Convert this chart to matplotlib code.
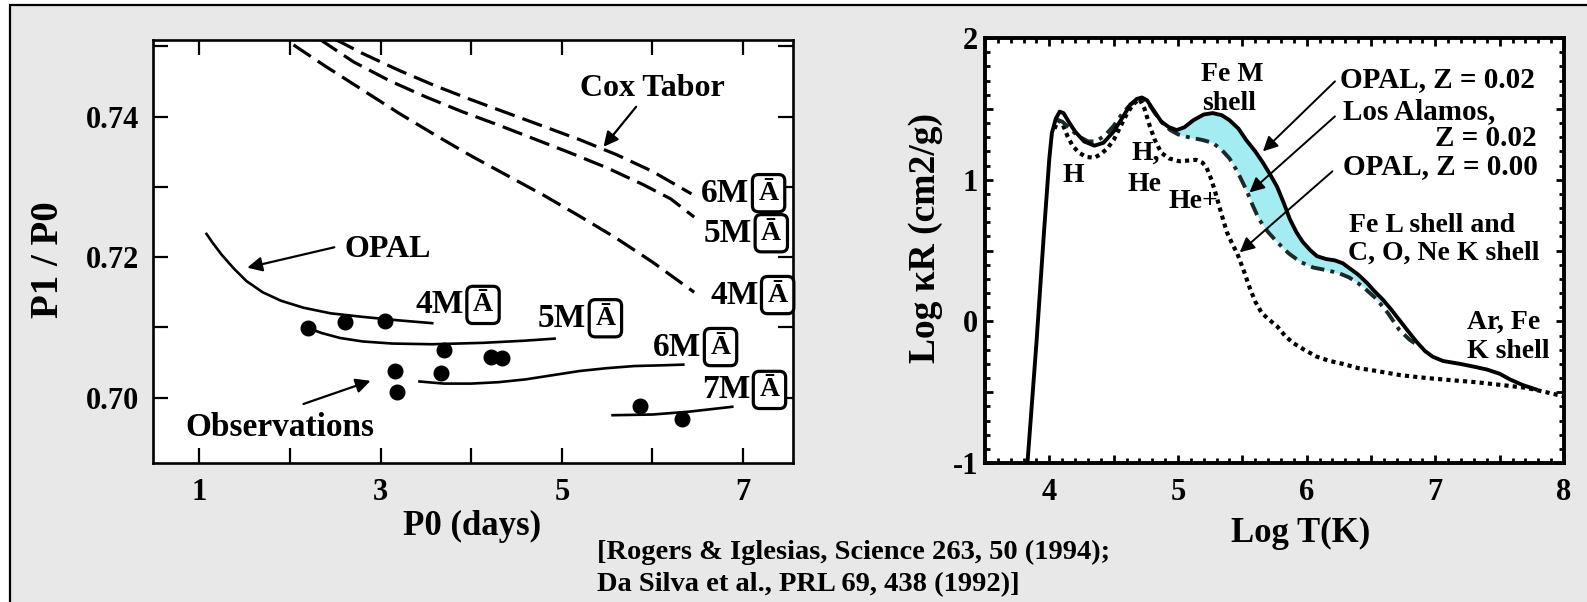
import numpy as np
import matplotlib
matplotlib.use("Agg")
import matplotlib.pyplot as plt
from matplotlib.patches import Rectangle
from matplotlib.ticker import MultipleLocator, FuncFormatter

plt.rcParams['font.family'] = ['Liberation Serif', 'DejaVu Serif']
plt.rcParams['font.weight'] = 'bold'
plt.rcParams['axes.unicode_minus'] = False

# ---- left panel: period ratio vs fundamental period ----
cox6_p0 = [2.50, 2.80, 3.20, 3.60, 4.00, 4.40, 4.80, 5.20, 5.60, 6.00, 6.43]
cox6_r = [0.7510, 0.7490, 0.7466, 0.7444, 0.7424, 0.7405, 0.7386, 0.7367, 0.7346, 0.7322, 0.7290]
cox5_p0 = [2.33, 2.70, 3.10, 3.50, 3.90, 4.30, 4.70, 5.10, 5.50, 5.90, 6.20, 6.46]
cox5_r = [0.7510, 0.7478, 0.7451, 0.7428, 0.7407, 0.7388, 0.7368, 0.7348, 0.7327, 0.7303, 0.7283, 0.7257]
cox4_p0 = [2.04, 2.40, 2.80, 3.20, 3.60, 4.00, 4.40, 4.80, 5.20, 5.60, 6.00, 6.46]
cox4_r = [0.7502, 0.7471, 0.7438, 0.7405, 0.7374, 0.7344, 0.7316, 0.7288, 0.7258, 0.7227, 0.7193, 0.7150]

opal4_p0 = [1.08, 1.15, 1.25, 1.38, 1.52, 1.70, 1.90, 2.15, 2.45, 2.80, 3.20, 3.57]
opal4_r = [0.7233, 0.7220, 0.7203, 0.7184, 0.7166, 0.7150, 0.7138, 0.7128, 0.7120, 0.7115, 0.7110, 0.7106]
opal5_p0 = [2.18, 2.35, 2.55, 2.80, 3.13, 3.57, 4.13, 4.58, 4.92]
opal5_r = [0.7100, 0.7092, 0.7085, 0.7080, 0.7077, 0.7076, 0.7078, 0.7081, 0.7084]
opal6_p0 = [3.43, 3.70, 4.00, 4.30, 4.60, 4.90, 5.20, 5.50, 5.80, 6.10, 6.34]
opal6_r = [0.7023, 0.7020, 0.7020, 0.7022, 0.7026, 0.7032, 0.7038, 0.7042, 0.7045, 0.7046, 0.7047]
opal7_p0 = [5.56, 6.00, 6.40, 6.88]
opal7_r = [0.6975, 0.6976, 0.6980, 0.6987]

obs_p0 = [2.20, 2.61, 3.05, 3.16, 3.18, 3.70, 3.67, 4.22, 4.34, 5.86, 6.33]
obs_r = [0.7099, 0.7107, 0.7109, 0.7038, 0.7008, 0.7068, 0.7035, 0.7058, 0.7056, 0.6988, 0.6970]

# mass labels: (text, x, y) where x is the join between "nM" and the boxed sign
mass_labels = [("6M", 7.07, 0.7291), ("5M", 7.10, 0.7234), ("4M", 7.17, 0.7146),
               ("4M", 3.92, 0.7132), ("5M", 5.27, 0.7113), ("6M", 6.54, 0.7072),
               ("7M", 7.08, 0.7011)]

# ---- right panel: Rosseland mean opacity vs temperature ----
opal02_T = [3.83, 3.90, 3.96, 4.00, 4.02, 4.05, 4.08, 4.11, 4.15, 4.20, 4.27, 4.35,
            4.42, 4.50, 4.57, 4.63, 4.68, 4.72, 4.76, 4.81, 4.87, 4.93, 4.99, 5.05,
            5.12, 5.20, 5.27, 5.34, 5.40, 5.47, 5.53, 5.60, 5.66, 5.72, 5.77, 5.82,
            5.87, 5.92, 5.97, 6.03, 6.08, 6.15, 6.22, 6.28, 6.34, 6.40, 6.47, 6.53,
            6.59, 6.66, 6.72, 6.78, 6.85, 6.92, 6.98, 7.06, 7.19, 7.30, 7.40, 7.50,
            7.58, 7.68, 7.78]
opal02_k = [-1.0, -0.15, 0.65, 1.15, 1.33, 1.43, 1.48, 1.47, 1.41, 1.34, 1.27, 1.24,
            1.26, 1.34, 1.44, 1.53, 1.57, 1.58, 1.56, 1.49, 1.41, 1.37, 1.35, 1.37,
            1.42, 1.46, 1.47, 1.455, 1.42, 1.36, 1.28, 1.20, 1.12, 1.03, 0.95, 0.84,
            0.72, 0.63, 0.56, 0.50, 0.46, 0.44, 0.43, 0.41, 0.37, 0.33, 0.27, 0.21,
            0.155, 0.08, 0.01, -0.06, -0.14, -0.21, -0.25, -0.28, -0.30, -0.32, -0.34, -0.37,
            -0.41, -0.45, -0.48]
la_T = [4.06, 4.10, 4.15, 4.22, 4.30, 4.36, 4.43, 4.50, 4.57, 4.63, 4.68, 4.72,
        4.77, 4.82, 4.88, 4.94, 5.00, 5.08, 5.19, 5.27, 5.34, 5.40, 5.46, 5.53,
        5.58, 5.63, 5.70, 5.77, 5.86, 5.95, 6.05, 6.16, 6.25, 6.33, 6.43, 6.54,
        6.63, 6.72, 6.80, 6.88]
la_k = [1.42, 1.41, 1.37, 1.31, 1.27, 1.27, 1.31, 1.38, 1.47, 1.53, 1.56, 1.57,
        1.54, 1.47, 1.40, 1.35, 1.32, 1.30, 1.28, 1.26, 1.21, 1.15, 1.06, 0.93,
        0.82, 0.72, 0.63, 0.56, 0.48, 0.42, 0.38, 0.36, 0.34, 0.31, 0.25, 0.16,
        0.06, -0.06, -0.13, -0.18]
opal00_T = [4.04, 4.07, 4.10, 4.14, 4.18, 4.23, 4.29, 4.35, 4.40, 4.45, 4.50, 4.55,
            4.60, 4.65, 4.70, 4.74, 4.78, 4.82, 4.87, 4.93, 5.01, 5.08, 5.14, 5.19,
            5.22, 5.26, 5.30, 5.34, 5.38, 5.42, 5.46, 5.51, 5.56, 5.60, 5.65, 5.71,
            5.77, 5.83, 5.89, 5.98, 6.08, 6.18, 6.28, 6.40, 6.54, 6.73, 6.93, 7.12,
            7.32, 7.52, 7.71, 7.86, 8.00]
opal00_k = [1.36, 1.42, 1.40, 1.31, 1.24, 1.19, 1.16, 1.155, 1.18, 1.22, 1.28, 1.37,
            1.46, 1.53, 1.57, 1.50, 1.38, 1.28, 1.19, 1.15, 1.13, 1.135, 1.14, 1.12,
            1.09, 1.00, 0.88, 0.75, 0.63, 0.55, 0.48, 0.36, 0.23, 0.14, 0.06, 0.01,
            -0.035, -0.10, -0.15, -0.20, -0.25, -0.28, -0.30, -0.33, -0.35, -0.38, -0.40, -0.415,
            -0.43, -0.45, -0.47, -0.50, -0.53]
shade_T = (4.99, 6.59)

W, H = 1587, 602
fig = plt.figure(figsize=(W / 100, H / 100), dpi=100)
fig.patch.set_facecolor('white')
fig.add_artist(Rectangle((10 / W, -0.02), 1.05, 1 - 5 / H + 0.02, transform=fig.transFigure,
                         facecolor='#e8e8e8', edgecolor='black', lw=1.6, zorder=0))

# ================= left =================
ax1 = fig.add_axes([153 / W, 1 - 463 / H, 640 / W, 423 / H])
ax1.set_xlim(0.49, 7.55)
ax1.set_ylim(0.6907, 0.7509)

dash = dict(color='black', lw=2.3, dashes=(6.5, 2.6))
ax1.plot(cox6_p0, cox6_r, **dash)
ax1.plot(cox5_p0, cox5_r, **dash)
ax1.plot(cox4_p0, cox4_r, **dash)
for xs, ys in [(opal4_p0, opal4_r), (opal5_p0, opal5_r), (opal6_p0, opal6_r), (opal7_p0, opal7_r)]:
    ax1.plot(xs, ys, color='black', lw=1.9)
ax1.plot(obs_p0, obs_r, 'o', color='black', ms=10.5, zorder=4)

for lab, x, y in mass_labels:
    ax1.annotate(lab, (x, y), ha='right', va='center', fontsize=24, annotation_clip=False)
    ax1.annotate("Ā", (x, y), xytext=(6.5, 0), textcoords='offset points',
                 ha='left', va='center', fontsize=20, annotation_clip=False,
                 bbox=dict(boxstyle='round,pad=0.22', fc='white', ec='black', lw=2.3))

arrow = dict(arrowstyle='-|>', color='black', lw=1.6, mutation_scale=22, shrinkA=0, shrinkB=0)
ax1.text(6.00, 0.7440, "Cox Tabor", ha='center', va='center', fontsize=23)
ax1.annotate("", xy=(5.46, 0.7357), xytext=(5.82, 0.7414), arrowprops=arrow)
ax1.text(2.60, 0.7211, "OPAL", ha='left', va='center', fontsize=23)
ax1.annotate("", xy=(1.53, 0.7185), xytext=(2.49, 0.7214), arrowprops=arrow)
ax1.text(1.89, 0.6957, "Observations", ha='center', va='center', fontsize=24)
ax1.annotate("", xy=(2.89, 0.7024), xytext=(2.15, 0.6991), arrowprops=arrow)

ax1.xaxis.set_major_locator(MultipleLocator(1))
ax1.yaxis.set_major_locator(MultipleLocator(0.01))
ax1.xaxis.set_major_formatter(FuncFormatter(lambda v, _: f"{v:.0f}" if round(v) % 2 == 1 else ""))
ax1.yaxis.set_major_formatter(FuncFormatter(lambda v, _: f"{v:.2f}" if round(v * 100) % 2 == 0 else ""))
ax1.tick_params(direction='in', length=11, width=1.6, top=True, right=True, labelsize=22)
ax1.tick_params(axis='x', pad=11)
ax1.tick_params(axis='y', pad=10)
for s in ax1.spines.values():
    s.set_linewidth(1.9)
ax1.set_xlabel("P0 (days)", fontsize=25, fontweight='bold')
ax1.set_ylabel("P1 / P0", fontsize=28, fontweight='bold')
ax1.xaxis.set_label_coords(0.498, -0.151)
ax1.xaxis.label.set_va('center')
ax1.yaxis.set_label_coords(-0.164, 0.48)
ax1.yaxis.label.set_va('center')

# ================= right =================
ax2 = fig.add_axes([985 / W, 1 - 463 / H, 579 / W, 425 / H])
ax2.set_xlim(3.5, 8.0)
ax2.set_ylim(-1, 2)

grid = np.linspace(shade_T[0], shade_T[1], 200)
ax2.fill_between(grid, np.interp(grid, la_T, la_k), np.interp(grid, opal02_T, opal02_k),
                 color='#a2ecf2', lw=0, zorder=1)
ax2.plot(opal00_T, opal00_k, color='black', lw=3.0, linestyle=(0, (1.0, 1.0)), zorder=2)
ax2.plot(la_T, la_k, color='#1a2a2a', lw=2.8, linestyle=(0, (3.5, 1.6, 1.0, 1.6)), zorder=2)
ax2.plot(opal02_T, opal02_k, color='black', lw=2.8, zorder=3)

fs = 20
ax2.text(5.42, 1.743, "Fe M", ha='center', va='center', fontsize=fs)
ax2.text(5.40, 1.538, "shell", ha='center', va='center', fontsize=fs)
ax2.text(6.26, 1.708, "OPAL, Z = 0.02", ha='left', va='center', fontsize=21)
ax2.text(6.28, 1.482, "Los Alamos,", ha='left', va='center', fontsize=21)
ax2.text(7.79, 1.291, "Z = 0.02", ha='right', va='center', fontsize=21)
ax2.text(6.28, 1.094, "OPAL, Z = 0.00", ha='left', va='center', fontsize=21)
ax2.text(6.33, 0.677, "Fe L shell and", ha='left', va='center', fontsize=fs)
ax2.text(6.32, 0.480, "C, O, Ne K shell", ha='left', va='center', fontsize=fs)
ax2.text(7.245, -0.007, "Ar, Fe", ha='left', va='center', fontsize=fs)
ax2.text(7.245, -0.212, "K shell", ha='left', va='center', fontsize=fs)
ax2.text(4.10, 1.03, "H", ha='left', va='center', fontsize=fs)
ax2.text(4.64, 1.186, "H,", ha='left', va='center', fontsize=fs)
ax2.text(4.61, 0.967, "He", ha='left', va='center', fontsize=fs)
ax2.text(4.93, 0.847, "He+", ha='left', va='center', fontsize=fs)

arrow2 = dict(arrowstyle='-|>', color='black', lw=1.4, mutation_scale=22, shrinkA=0, shrinkB=0)
ax2.annotate("", xy=(5.66, 1.20), xytext=(6.22, 1.694), arrowprops=arrow2)
ax2.annotate("", xy=(5.556, 0.910), xytext=(6.22, 1.447), arrowprops=arrow2)
ax2.annotate("", xy=(5.48, 0.487), xytext=(6.20, 1.059), arrowprops=arrow2)

ax2.xaxis.set_major_locator(MultipleLocator(0.5))
ax2.xaxis.set_minor_locator(MultipleLocator(0.1))
ax2.yaxis.set_major_locator(MultipleLocator(0.5))
ax2.yaxis.set_minor_locator(MultipleLocator(0.1))
intfmt = FuncFormatter(lambda v, _: f"{v:.0f}" if abs(v - round(v)) < 1e-6 else "")
ax2.xaxis.set_major_formatter(intfmt)
ax2.yaxis.set_major_formatter(intfmt)
ax2.tick_params(which='both', direction='in', top=True, right=True, width=2.0)
ax2.tick_params(which='major', length=6, labelsize=22)
ax2.tick_params(which='minor', length=3.5)
ax2.tick_params(axis='x', pad=11)
ax2.tick_params(axis='y', pad=5)
for s in ax2.spines.values():
    s.set_linewidth(2.8)
ax2.set_xlabel("Log T(K)", fontsize=25, fontweight='bold')
ax2.set_ylabel("Log κR (cm2/g)", fontsize=27, fontweight='bold')
ax2.xaxis.set_label_coords(0.545, -0.167)
ax2.xaxis.label.set_va('center')
ax2.yaxis.set_label_coords(-0.102, 0.529)
ax2.yaxis.label.set_va('center')

fig.text(597 / W, 1 - 552 / H, "[Rogers & Iglesias, Science 263, 50 (1994);",
         ha='left', va='center', fontsize=20.5)
fig.text(597 / W, 1 - 585 / H, "Da Silva et al., PRL 69, 438 (1992)]",
         ha='left', va='center', fontsize=20.5)

fig.savefig("out.png", dpi=100)
